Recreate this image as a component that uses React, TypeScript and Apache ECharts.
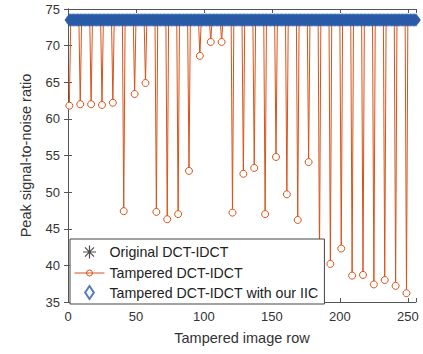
import React, { useEffect, useRef } from "react";
import * as echarts from "echarts";

// ---- data ----
const rowCount = 256;               // image rows 1..256
const unaffectedPSNR = 73.5;        // PSNR of rows that are not degraded
const dipRows = [1, 9, 17, 25, 33, 41, 49, 57, 65, 73, 81, 89, 97, 105, 113, 121,
  129, 137, 145, 153, 161, 169, 177, 185, 193, 201, 209, 217, 225, 233, 241, 249];
const dipPSNR = [61.8, 62.0, 62.0, 61.9, 62.2, 47.4, 63.4, 64.9, 47.3, 46.3, 47.0, 52.9, 68.6, 70.5, 70.5, 47.2,
  52.5, 53.3, 47.0, 54.8, 49.7, 46.2, 54.1, 40.8, 40.2, 42.3, 38.6, 38.7, 37.4, 38.0, 37.2, 36.2];
const xTicks = [0, 50, 100, 150, 200, 250];
const yTicks = [35, 40, 45, 50, 55, 60, 65, 70, 75];

const seriesNames = ["Original DCT-IDCT", "Tampered DCT-IDCT", "Tampered DCT-IDCT with our IIC"];

const FONT = "Liberation Sans";

export default function App() {
  const ref = useRef<HTMLDivElement>(null);
  useEffect(() => {
    if (!ref.current) return;
    const chart = echarts.init(ref.current, undefined, { renderer: "svg" });

    const rows: number[] = [];
    for (let r = 1; r <= rowCount; r++) rows.push(r);
    const original = rows.map((r) => [r, unaffectedPSNR]);
    const tampered = rows.map((r) => {
      const i = dipRows.indexOf(r);
      return [r, i >= 0 ? dipPSNR[i] : unaffectedPSNR];
    });
    const withIIC = rows.map((r) => [r, unaffectedPSNR]);

    const axisColor = "#555";
    const textColor = "#333";
    const blue = "#2a5ba8";
    const orange = "#D95319";
    const asterisk = "path://M5,0L5,10M0,5L10,5M1.5,1.5L8.5,8.5M1.5,8.5L8.5,1.5";
    const diamondPath = "path://M3,0L6,4.5L3,9L0,4.5Z";
    const circleLegend = "path://M0,5L30,5M18,5A3,3,0,1,1,12,5A3,3,0,1,1,18,5Z";

    const xMin = xTicks[0];
    const xMax = rowCount;
    const yMin = yTicks[0];
    const yMax = yTicks[yTicks.length - 1];

    chart.setOption({
      animation: false,
      backgroundColor: "#fff",
      textStyle: { fontFamily: FONT },
      grid: { left: 68, right: 7, top: 9, bottom: 52, containLabel: false },
      xAxis: [
        {
          type: "value", min: xMin, max: xMax, interval: 50,
          name: "Tampered image row", nameLocation: "middle", nameGap: 28,
          nameTextStyle: { fontFamily: FONT, fontSize: 14.5, color: textColor },
          axisLine: { show: true, lineStyle: { color: axisColor, width: 1 } },
          axisTick: { show: true, inside: true, length: 4, lineStyle: { color: axisColor } },
          axisLabel: {
            fontFamily: FONT, fontSize: 13, color: textColor, margin: 8,
            formatter: (v: number) => (xTicks.includes(v) ? String(v) : ""),
          },
          splitLine: { show: false },
        },
        {
          type: "value", position: "top", min: xMin, max: xMax, interval: 50,
          axisLine: { show: true, lineStyle: { color: axisColor, width: 1 } },
          axisTick: { show: true, inside: true, length: 4, lineStyle: { color: axisColor } },
          axisLabel: { show: false },
          splitLine: { show: false },
        },
      ],
      yAxis: [
        {
          type: "value", min: yMin, max: yMax, interval: 5,
          name: "Peak signal-to-noise ratio", nameLocation: "middle", nameGap: 35,
          nameTextStyle: { fontFamily: FONT, fontSize: 14.5, color: textColor },
          axisLine: { show: true, lineStyle: { color: axisColor, width: 1 } },
          axisTick: { show: true, inside: true, length: 4, lineStyle: { color: axisColor } },
          axisLabel: { fontFamily: FONT, fontSize: 13, color: textColor, margin: 8 },
          splitLine: { show: false },
        },
        {
          type: "value", position: "right", min: yMin, max: yMax, interval: 5,
          axisLine: { show: true, lineStyle: { color: axisColor, width: 1 } },
          axisTick: { show: true, inside: true, length: 4, lineStyle: { color: axisColor } },
          axisLabel: { show: false },
          splitLine: { show: false },
        },
      ],
      legend: {
        orient: "vertical",
        left: 70,
        top: 239,
        padding: [4, 6, 4, 4],
        itemGap: 5,
        itemWidth: 30,
        itemHeight: 13,
        backgroundColor: "#fff",
        borderColor: "#444",
        borderWidth: 1,
        borderRadius: 0,
        textStyle: { fontFamily: FONT, fontSize: 14.2, color: "#222" },
        data: [
          { name: seriesNames[0], icon: asterisk, itemStyle: { color: "none", borderColor: "#222", borderWidth: 1.2 } },
          { name: seriesNames[1], icon: circleLegend, itemStyle: { color: "#fff", borderColor: orange, borderWidth: 1 } },
          { name: seriesNames[2], icon: diamondPath, itemStyle: { color: "#fff", borderColor: blue, borderWidth: 2 } },
        ],
      },
      series: [
        {
          name: seriesNames[0],
          type: "scatter",
          data: original,
          symbol: asterisk,
          symbolSize: 8,
          itemStyle: { color: "none", borderColor: "#222", borderWidth: 1 },
          z: 2,
        },
        {
          name: seriesNames[1],
          type: "line",
          data: tampered,
          symbol: "circle",
          symbolSize: 7,
          showAllSymbol: true,
          lineStyle: { color: orange, width: 1 },
          itemStyle: { color: "#fff", borderColor: orange, borderWidth: 1 },
          z: 3,
        },
        {
          name: seriesNames[2],
          type: "scatter",
          data: withIIC,
          symbol: "diamond",
          symbolSize: [8, 11],
          itemStyle: { color: blue, borderColor: blue, borderWidth: 1.5 },
          z: 4,
        },
      ],
    });
    return () => chart.dispose();
  }, []);
  return <div ref={ref} style={{ position: "absolute", left: 0, top: 0, width: 423, height: 354 }} />;
}
